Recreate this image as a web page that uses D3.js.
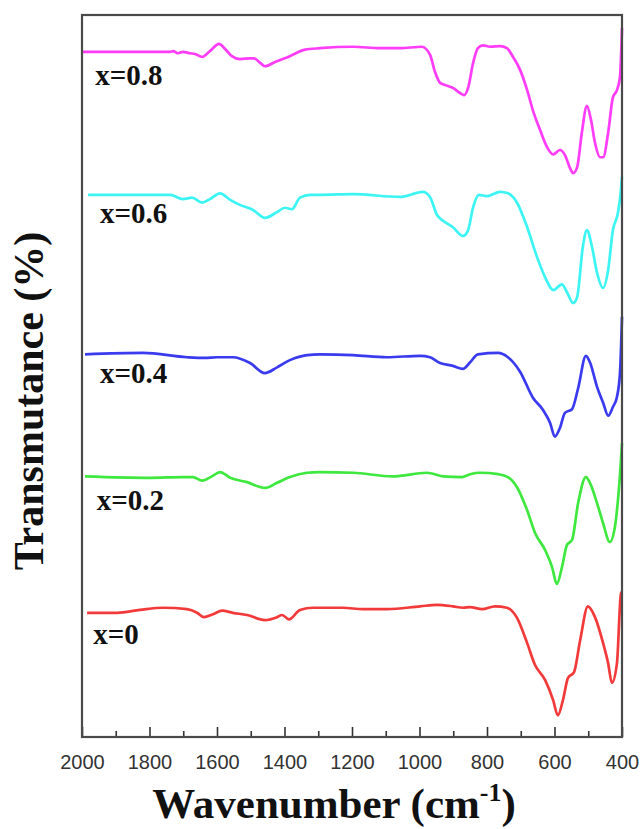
<!DOCTYPE html>
<html>
<head>
<meta charset="utf-8">
<script src="https://cdn.jsdelivr.net/npm/d3@7"></script>
<style>
  html, body { margin: 0; padding: 0; background: #fff; }
  svg { display: block; }
</style>
</head>
<body>
<svg id="chart" width="643" height="829"></svg>
<script>
// ---- Data (wavenumber cm^-1, transmittance in arbitrary stacked % units) ----
const seriesNames = ["x=0", "x=0.2", "x=0.4", "x=0.6", "x=0.8"];
const seriesColors = ["#f23a3a", "#3ee83e", "#3a3aee", "#3cf4f4", "#ff3cf8"];

const wn_x0 = [1985,1896,1828,1760,1689,1659,1639,1612,1585,1553,1511,1458,1422,1407,1387,1354,1316,1227,1167,1096,998,948,901,871,850,815,776,741,711,681,658,628,604,590,575,560,542,524,501,480,456,441,430,415,403,400];
const t_x0  = [17.2,17.2,17.6,17.9,17.7,17.2,16.6,17.0,17.5,17.2,16.9,16.2,16.6,16.9,16.3,17.6,17.9,17.9,17.7,17.7,18.1,18.3,18.1,17.9,18.0,17.7,18.1,17.9,16.5,13.0,10.0,7.9,5.1,3.0,5.1,8.2,9.0,13.4,18.1,16.6,13.0,10.2,7.5,10.2,19.9,20.1];

const wn_x02 = [1991,1799,1701,1671,1644,1615,1591,1561,1511,1458,1422,1384,1333,1295,1197,1079,978,930,874,850,821,767,738,711,681,658,628,607,593,578,563,548,530,507,495,474,456,436,421,412,403,400];
const t_x02  = [36.1,35.9,36.0,36.0,35.5,36.1,36.7,35.9,35.3,34.5,35.2,36.0,36.6,36.7,36.6,36.1,36.6,36.1,36.0,36.4,36.6,36.4,36.0,34.6,31.4,28.3,25.9,23.5,21.2,23.5,26.6,27.3,32.4,36.0,35.2,32.4,29.6,27.0,29.1,32.8,38.4,40.7];

const wn_x04 = [1991,1819,1689,1636,1600,1553,1502,1458,1422,1384,1333,1295,1197,1096,998,969,939,901,871,850,827,767,738,702,664,634,613,599,584,569,548,530,507,495,474,456,441,427,415,406,400];
const t_x04  = [53.0,53.2,52.6,52.5,52.6,52.6,51.8,50.4,51.2,52.2,52.9,53.0,52.9,52.6,52.8,52.6,51.8,51.4,51.0,51.9,53.0,53.2,52.6,50.6,47.0,45.3,43.5,41.6,42.8,44.9,45.4,48.3,52.8,51.9,48.5,46.3,44.5,45.7,47.1,50.4,58.2];

const wn_x06 = [1982,1858,1739,1701,1674,1644,1621,1591,1561,1532,1493,1458,1422,1399,1378,1354,1324,1295,1197,1058,990,969,948,930,901,871,856,841,824,800,761,738,711,681,652,628,604,578,563,545,533,516,504,489,474,456,441,427,412,403,400];
const t_x06  = [75.1,75.1,75.1,74.5,74.7,74.0,74.5,75.3,74.4,73.7,73.0,71.9,72.7,73.3,73.1,74.7,75.1,75.1,75.2,74.8,75.5,74.8,72.3,71.5,70.6,69.4,70.2,73.4,75.1,74.9,75.5,75.3,74.0,70.6,66.5,63.7,61.9,62.7,61.6,60.1,60.9,67.9,70.2,67.9,64.3,62.2,64.7,70.2,72.6,75.8,77.6];

const wn_x08 = [2000,1887,1739,1730,1716,1701,1680,1665,1644,1621,1594,1576,1556,1532,1502,1490,1473,1458,1428,1384,1339,1295,1197,1117,1058,993,969,954,939,918,901,880,868,856,841,827,812,791,761,741,723,702,681,664,643,622,604,584,569,554,545,533,519,504,492,480,465,456,441,427,415,406,400];
const t_x08  = [94.9,94.9,94.9,95.0,94.7,94.9,94.7,94.6,94.2,95.0,96.0,95.3,94.3,93.9,94.0,94.0,93.4,92.9,93.5,94.3,95.2,95.4,95.6,95.4,95.4,95.6,94.5,92.1,90.6,90.2,89.9,89.2,88.9,89.9,93.4,95.4,95.8,95.6,95.7,95.4,94.2,92.4,89.6,86.8,84.1,81.7,80.7,81.3,80.6,78.8,78.1,78.9,83.7,87.4,85.5,82.3,80.3,80.3,83.7,88.6,89.6,91.4,98.2];

const labelWn = [1967, 1956, 1947, 1947, 1961];
const labelT  = [12.9, 31.4, 49.0, 71.2, 90.3];

const xTicks = [2000, 1800, 1600, 1400, 1200, 1000, 800, 600, 400];
const xMinorTicks = [1900, 1700, 1500, 1300, 1100, 900, 700, 500];

// ---- Layout ----
const margin = { left: 82, right: 21, top: 15, bottom: 92 };
const W = 643, H = 829;
const innerW = W - margin.left - margin.right;   // 540
const innerH = H - margin.top - margin.bottom;   // 722

const svg = d3.select("#chart");
const g = svg.append("g").attr("transform", `translate(${margin.left},${margin.top})`);

const x = d3.scaleLinear().domain([2000, 400]).range([0, innerW]);
const y = d3.scaleLinear().domain([0, 100]).range([innerH, 0]);

const allSeries = [
  { wn: wn_x0,  t: t_x0 },
  { wn: wn_x02, t: t_x02 },
  { wn: wn_x04, t: t_x04 },
  { wn: wn_x06, t: t_x06 },
  { wn: wn_x08, t: t_x08 }
];

const line = d3.line()
  .x(d => x(d[0]))
  .y(d => y(d[1]))
  .curve(d3.curveMonotoneX);

allSeries.forEach((s, i) => {
  const pts = s.wn.map((w, k) => [w, s.t[k]]);
  g.append("path")
    .datum(pts)
    .attr("fill", "none")
    .attr("stroke", seriesColors[i])
    .attr("stroke-width", 2.7)
    .attr("stroke-linejoin", "round")
    .attr("d", line);
});

// Series labels
seriesNames.forEach((name, i) => {
  g.append("text")
    .attr("x", x(labelWn[i]))
    .attr("y", y(labelT[i]))
    .attr("font-family", "'Liberation Serif', 'Times New Roman', serif")
    .attr("font-weight", "bold")
    .attr("font-size", 29)
    .attr("fill", "#111")
    .text(name);
});

// Bottom axis with inward ticks
const xAxis = d3.axisBottom(x).tickValues(xTicks).tickSizeInner(-10).tickSizeOuter(0).tickPadding(18)
  .tickFormat(d3.format("d"));
const ax = g.append("g").attr("transform", `translate(0,${innerH})`).call(xAxis);
ax.select(".domain").remove();
ax.selectAll(".tick line").attr("stroke", "#333").attr("stroke-width", 1.6);
ax.selectAll(".tick text")
  .attr("font-family", "'Liberation Sans', Arial, sans-serif")
  .attr("font-size", 20)
  .attr("fill", "#333");

const xMinor = d3.axisBottom(x).tickValues(xMinorTicks).tickSizeInner(-6).tickSizeOuter(0).tickFormat("");
const axm = g.append("g").attr("transform", `translate(0,${innerH})`).call(xMinor);
axm.select(".domain").remove();
axm.selectAll(".tick line").attr("stroke", "#333").attr("stroke-width", 1.6);

// Frame
g.append("rect")
  .attr("x", 0).attr("y", 0)
  .attr("width", innerW).attr("height", innerH)
  .attr("fill", "none")
  .attr("stroke", "#4a4a4a")
  .attr("stroke-width", 2.2);

// Axis titles
const xt = svg.append("text")
  .attr("x", 334)
  .attr("y", 818)
  .attr("text-anchor", "middle")
  .attr("font-family", "'Liberation Serif', 'Times New Roman', serif")
  .attr("font-weight", "bold")
  .attr("font-size", 43)
  .attr("fill", "#111");
xt.append("tspan").text("Wavenumber (cm");
xt.append("tspan").attr("dy", -17).attr("font-size", 26).text("-1");
xt.append("tspan").attr("dy", 17).text(")");

svg.append("text")
  .attr("transform", "translate(43,401) rotate(-90)")
  .attr("text-anchor", "middle")
  .attr("font-family", "'Liberation Serif', 'Times New Roman', serif")
  .attr("font-weight", "bold")
  .attr("font-size", 42)
  .attr("fill", "#111")
  .text("Transmutance (%)");
</script>
</body>
</html>
